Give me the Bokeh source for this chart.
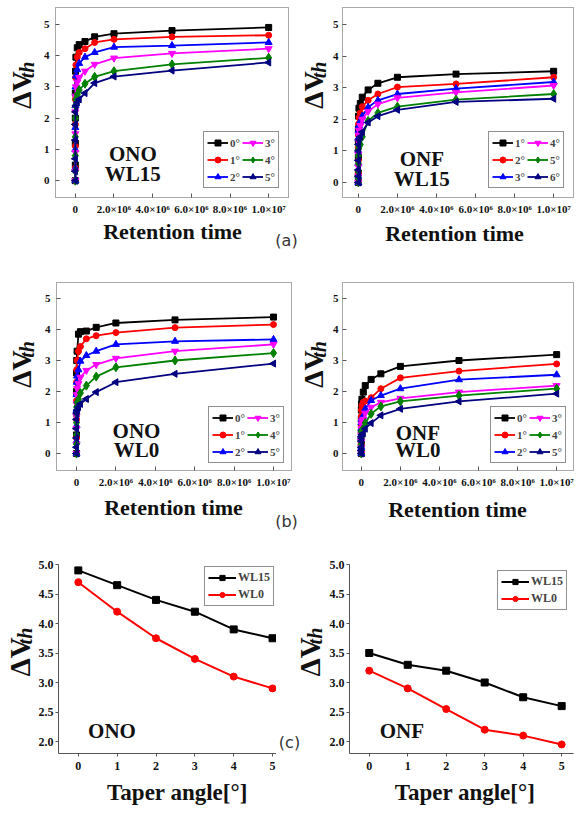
import numpy as np
from bokeh.plotting import figure
from bokeh.models import Range1d, FixedTicker, Label, Legend, LegendItem
from bokeh.layouts import column, row
from bokeh.embed import file_html
from bokeh.resources import INLINE

# ---------------- data ----------------
times = [0, 1, 10, 100, 1e3, 1e4, 3e4, 1e5, 2e5, 5e5, 1e6, 2e6, 5e6, 1e7]
time_ticks = [0, 2000000, 4000000, 6000000, 8000000, 10000000]
time_tick_labels = ["0", "2.0×10⁶", "4.0×10⁶", "6.0×10⁶", "8.0×10⁶", "1.0×10⁷"]
dv_ticks = [0, 1, 2, 3, 4, 5]
dv_tick_labels = ["0", "1", "2", "3", "4", "5"]

angles_0_to_5 = ["0°", "1°", "2°", "3°", "4°", "5°"]
angles_1_to_6 = ["1°", "2°", "3°", "4°", "5°", "6°"]

ono_wl15 = [
    [0, 0.5, 1.2, 2.0, 2.8, 3.5, 3.95, 4.25, 4.35, 4.45, 4.6, 4.7, 4.8, 4.9],
    [0, 0.4, 1.1, 1.8, 2.6, 3.3, 3.7, 3.95, 4.1, 4.22, 4.42, 4.52, 4.6, 4.65],
    [0, 0.4, 1.0, 1.7, 2.4, 3.0, 3.35, 3.55, 3.75, 3.95, 4.1, 4.27, 4.32, 4.42],
    [0, 0.3, 0.9, 1.5, 2.2, 2.7, 3.0, 3.15, 3.3, 3.5, 3.72, 3.92, 4.07, 4.22],
    [0, 0.3, 0.8, 1.4, 2.0, 2.4, 2.6, 2.75, 2.9, 3.1, 3.32, 3.5, 3.72, 3.93],
    [0, 0.3, 0.7, 1.3, 1.8, 2.2, 2.4, 2.5, 2.6, 2.8, 3.12, 3.33, 3.52, 3.78],
]
onf_wl15 = [
    [0, 0.3, 0.8, 1.3, 1.7, 2.1, 2.35, 2.5, 2.7, 2.93, 3.14, 3.33, 3.43, 3.52],
    [0, 0.3, 0.7, 1.1, 1.5, 1.85, 2.05, 2.2, 2.4, 2.6, 2.8, 3.02, 3.12, 3.33],
    [0, 0.2, 0.6, 1.0, 1.4, 1.65, 1.8, 1.95, 2.1, 2.38, 2.6, 2.8, 2.97, 3.18],
    [0, 0.2, 0.5, 0.9, 1.3, 1.5, 1.65, 1.8, 2.0, 2.25, 2.48, 2.68, 2.85, 3.07],
    [0, 0.15, 0.35, 0.6, 0.85, 1.05, 1.15, 1.2, 1.45, 1.95, 2.2, 2.4, 2.62, 2.8],
    [0, 0.2, 0.4, 0.7, 1.0, 1.2, 1.35, 1.45, 1.6, 1.9, 2.1, 2.3, 2.55, 2.65],
]
ono_wl0 = [
    [0, 0.6, 1.3, 2.0, 2.6, 3.0, 3.3, 3.85, 3.93, 3.95, 4.07, 4.21, 4.31, 4.4],
    [0, 0.5, 1.1, 1.7, 2.3, 2.7, 3.0, 3.3, 3.45, 3.7, 3.8, 3.9, 4.06, 4.16],
    [0, 0.4, 0.9, 1.4, 1.9, 2.3, 2.5, 2.7, 2.98, 3.16, 3.3, 3.52, 3.62, 3.68],
    [0, 0.3, 0.8, 1.2, 1.6, 1.9, 2.1, 2.25, 2.46, 2.68, 2.87, 3.07, 3.3, 3.52],
    [0, 0.3, 0.6, 1.0, 1.3, 1.5, 1.65, 1.75, 1.95, 2.19, 2.48, 2.78, 3.0, 3.24],
    [0, 0.2, 0.5, 0.8, 1.1, 1.3, 1.4, 1.5, 1.6, 1.76, 1.98, 2.3, 2.57, 2.9],
]
onf_wl0 = [
    [0, 0.3, 0.7, 1.1, 1.4, 1.6, 1.75, 1.98, 2.19, 2.39, 2.57, 2.81, 3.0, 3.19],
    [0, 0.3, 0.6, 0.9, 1.2, 1.4, 1.55, 1.65, 1.69, 1.8, 2.09, 2.44, 2.66, 2.89],
    [0, 0.2, 0.5, 0.8, 1.0, 1.1, 1.15, 1.2, 1.44, 1.71, 1.87, 2.09, 2.38, 2.54],
    [0, 0.2, 0.4, 0.6, 0.8, 0.95, 1.05, 1.1, 1.3, 1.49, 1.65, 1.78, 1.98, 2.19],
    [0, 0.1, 0.3, 0.5, 0.6, 0.7, 0.75, 0.8, 0.98, 1.28, 1.52, 1.68, 1.87, 2.09],
    [0, 0.1, 0.2, 0.4, 0.5, 0.55, 0.6, 0.65, 0.8, 0.98, 1.23, 1.44, 1.68, 1.93],
]

taper_angles = [0, 1, 2, 3, 4, 5]
taper_x_labels = ["0", "1", "2", "3", "4", "5"]
taper_y_ticks = [2.0, 2.5, 3.0, 3.5, 4.0, 4.5, 5.0]
taper_y_labels = ["2.0", "2.5", "3.0", "3.5", "4.0", "4.5", "5.0"]
taper_names = ["WL15", "WL0"]
ono_taper_wl15 = [4.9, 4.65, 4.4, 4.2, 3.9, 3.75]
ono_taper_wl0 = [4.7, 4.2, 3.75, 3.4, 3.1, 2.9]
onf_taper_wl15 = [3.5, 3.3, 3.2, 3.0, 2.75, 2.6]
onf_taper_wl0 = [3.2, 2.9, 2.55, 2.2, 2.1, 1.95]

# ---------------- style ----------------
SERIF = "Liberation Serif"
TAGFONT = "DejaVu Sans"
COLORS = ["#000000", "#ff0000", "#0000ff", "#ff00ff", "#008000", "#000080"]
MARKERS = [("square", 0.0, 6), ("circle", 0.0, 6), ("triangle", 0.0, 7),
           ("inverted_triangle", 0.0, 7), ("diamond", 0.0, 9), ("triangle", np.pi / 2, 7)]


def lin(p0, v0, p1, v1):
    return lambda p: v0 + (p - p0) * (v1 - v0) / (p1 - p0)


def label(x, y, text, size, style="bold", angle=0.0, font=SERIF, color="#111111"):
    return Label(x=x, y=y, text=text, angle=angle, text_font=font, text_font_style=style,
                 text_font_size=size, text_color=color, text_align="center",
                 text_baseline="middle")


def ylabel_fig(box, dv, th, dv_size="28px", th_size="20px", extra=None):
    """Narrow figure that only carries the rotated ΔV_th title (page-pixel coordinates)."""
    x0, y0, x1, y1 = box
    p = figure(width=x1 - x0, height=y1 - y0, x_range=Range1d(x0, x1), y_range=Range1d(y1, y0),
               x_axis_type=None, y_axis_type=None, output_backend="svg", toolbar_location=None,
               min_border=0, min_border_left=0, min_border_right=0,
               min_border_top=0, min_border_bottom=0)
    p.xgrid.visible = False
    p.ygrid.visible = False
    p.outline_line_color = None
    p.add_layout(label(dv[0], dv[1], "ΔV", dv_size, angle=np.pi / 2))
    p.add_layout(label(th[0], th[1], "th", th_size, style="bold italic", angle=np.pi / 2))
    if extra is not None:
        ex, ey, et = extra
        p.add_layout(label(ex, ey, et, "16px", style="normal", font=TAGFONT, color="#333333"))
    return p


def make_fig(spec):
    cx0, cy0, cx1, cy1 = spec["canvas"]
    fx0, fy0, fx1, fy1 = spec["frame"]
    fx = lin(*spec["xa"])
    fy = lin(*spec["ya"])
    p = figure(width=cx1 - cx0, height=cy1 - cy0,
               x_range=Range1d(fx(fx0), fx(fx1)), y_range=Range1d(fy(fy1), fy(fy0)),
               output_backend="svg", toolbar_location=None,
               min_border_left=fx0 - cx0, min_border_right=cx1 - fx1,
               min_border_top=fy0 - cy0, min_border_bottom=cy1 - fy1)
    p.xgrid.visible = False
    p.ygrid.visible = False
    p.background_fill_color = "white"
    p.border_fill_color = "white"
    for ax in (p.xaxis[0], p.yaxis[0]):
        ax.major_label_text_font = SERIF
        ax.major_label_text_font_style = "bold"
        ax.major_label_text_color = "#111111"
        ax.minor_tick_line_color = None
        ax.major_tick_line_color = "#555555"
        ax.axis_label = None
    return p, fx, fy


def add_below_texts(p, fx, fy, spec, title, title_size):
    # texts under the frame live in the "below" side panel so that they are not clipped
    tx, ty = spec["title_pos"]
    p.add_layout(label(fx(tx), fy(ty), title, title_size), "below")
    if "tag" in spec:
        gx, gy, gt = spec["tag"]
        p.add_layout(label(fx(gx), fy(gy), gt, "16px", style="normal", font=TAGFONT,
                           color="#333333"), "below")


def time_panel(spec, series, names, tag1, tag2):
    p, fx, fy = make_fig(spec)
    p.outline_line_color = "#555555"
    p.outline_line_dash = "1 1"
    p.outline_line_width = 1
    xa, ya = p.xaxis[0], p.yaxis[0]
    for ax in (xa, ya):
        ax.axis_line_color = None
        ax.major_tick_in = 4
        ax.major_tick_out = 0
        ax.major_label_text_font_size = "11px"
    xa.ticker = FixedTicker(ticks=time_ticks)
    xa.major_label_overrides = dict(zip(time_ticks, time_tick_labels))
    xa.major_label_standoff = 5
    ya.ticker = FixedTicker(ticks=dv_ticks)
    ya.major_label_overrides = dict(zip(dv_ticks, dv_tick_labels))
    ya.major_label_standoff = spec["ystandoff"]

    items = []
    for vals, name, col, (mk, ang, sz) in zip(series, names, COLORS, MARKERS):
        lr = p.line(times, vals, line_color=col, line_width=1.8)
        sr = p.scatter(times, vals, marker=mk, angle=ang, size=sz, fill_color=col, line_color=col)
        items.append(LegendItem(label=name, renderers=[lr, sr]))
    leg = Legend(items=items, orientation="vertical", nrows=3, location="bottom_right",
                 label_text_font=SERIF, label_text_font_style="bold", label_text_font_size="11px",
                 glyph_width=21, glyph_height=15, label_height=15, label_width=10,
                 label_standoff=2, spacing=2, padding=3, margin=spec["legend_margin"],
                 border_line_color="#222222", border_line_width=1, background_fill_alpha=1.0)
    p.add_layout(leg)

    (t1x, t1y), (t2x, t2y) = spec["text_pos"]
    p.add_layout(label(fx(t1x), fy(t1y), tag1, "21px"))
    p.add_layout(label(fx(t2x), fy(t2y), tag2, "21px"))
    add_below_texts(p, fx, fy, spec, "Retention time", "22px")
    return p


def taper_panel(spec, wl15, wl0, tag):
    p, fx, fy = make_fig(spec)
    p.outline_line_color = None
    xa, ya = p.xaxis[0], p.yaxis[0]
    for ax in (xa, ya):
        ax.axis_line_color = "#555555"
        ax.axis_line_width = 1
        ax.major_tick_in = 0
        ax.major_tick_out = 3
        ax.major_label_text_font_size = "12px"
    xa.ticker = FixedTicker(ticks=taper_angles)
    xa.major_label_overrides = dict(zip(taper_angles, taper_x_labels))
    xa.major_label_standoff = 5
    ya.ticker = FixedTicker(ticks=taper_y_ticks)
    ya.major_label_overrides = dict(zip(taper_y_ticks, taper_y_labels))
    ya.major_label_standoff = 2

    items = []
    for vals, name, col, (mk, ang, sz) in zip([wl15, wl0], taper_names, COLORS[:2], MARKERS[:2]):
        lr = p.line(taper_angles, vals, line_color=col, line_width=2)
        sr = p.scatter(taper_angles, vals, marker=mk, size=sz + 1, fill_color=col, line_color=col)
        items.append(LegendItem(label=name, renderers=[lr, sr]))
    leg = Legend(items=items, orientation="vertical", location="top_right",
                 label_text_font=SERIF, label_text_font_style="bold", label_text_font_size="12px",
                 glyph_width=28, glyph_height=13, label_height=13, label_width=10,
                 label_standoff=2, spacing=2, padding=3, margin=spec["legend_margin"],
                 border_line_color="#222222", border_line_width=1, background_fill_alpha=1.0)
    p.add_layout(leg)
    tx, ty = spec["text_pos"]
    p.add_layout(label(fx(tx), fy(ty), tag, "21px"))
    add_below_texts(p, fx, fy, spec, "Taper angle[°]", "23px")
    return p


# page-pixel geometry (canvas and frame boxes; axis anchor pixels)
spec_a1 = dict(canvas=(40, 0, 297, 262), frame=(53, 7, 288, 199), xa=(73, 0, 268, 1e7), ya=(182, 0, 24, 5),
               ystandoff=6, legend_margin=9, text_pos=[(131, 155), (131, 175)], title_pos=(171, 233),
               tag=(286, 242, "(a)"))
spec_a2 = dict(canvas=(329, 0, 576, 262), frame=(340, 7, 573, 197), xa=(356, 0, 553, 1e7), ya=(182, 0, 24, 5),
               ystandoff=4, legend_margin=9, text_pos=[(420, 158), (420, 178)], title_pos=(453, 233))
spec_b1 = dict(canvas=(40, 262, 297, 540), frame=(56, 282, 291, 470), xa=(76, 0, 273, 1e7), ya=(453, 0, 298, 5),
               ystandoff=6, legend_margin=7, text_pos=[(136, 430), (136, 449)], title_pos=(173, 507),
               tag=(286, 521, "(b)"))
spec_b2 = dict(canvas=(329, 262, 576, 540), frame=(340, 282, 573, 470), xa=(359, 0, 556, 1e7), ya=(453, 0, 298, 5),
               ystandoff=4, legend_margin=7, text_pos=[(416, 432), (416, 449)], title_pos=(456, 509))
spec_c1 = dict(canvas=(35, 540, 276, 820), frame=(56, 564, 276, 753), xa=(76, 0, 272, 5), ya=(741, 2.0, 564, 5.0),
               legend_margin=2, text_pos=(110, 730), title_pos=(176, 792))
spec_c2 = dict(canvas=(326, 540, 576, 820), frame=(346, 564, 573, 753), xa=(366, 0, 561, 5), ya=(741, 2.0, 564, 5.0),
               legend_margin=6, text_pos=(399, 730), title_pos=(463, 792))

la1 = ylabel_fig((0, 0, 40, 262), dv=(21, 114), th=(26, 86))
la2 = ylabel_fig((297, 0, 329, 262), dv=(313, 114), th=(318, 86))
lb1 = ylabel_fig((0, 262, 40, 540), dv=(21, 390), th=(26, 361))
lb2 = ylabel_fig((297, 262, 329, 540), dv=(313, 390), th=(318, 361))
lc1 = ylabel_fig((0, 540, 35, 820), dv=(19, 677), th=(24, 646), dv_size="29px", th_size="20px")
lc2 = ylabel_fig((276, 540, 326, 820), dv=(309, 677), th=(314, 646), dv_size="29px", th_size="20px",
                 extra=(289, 803, "(c)"))

pa1 = time_panel(spec_a1, ono_wl15, angles_0_to_5, "ONO", "WL15")
pa2 = time_panel(spec_a2, onf_wl15, angles_1_to_6, "ONF", "WL15")
pb1 = time_panel(spec_b1, ono_wl0, angles_0_to_5, "ONO", "WL0")
pb2 = time_panel(spec_b2, onf_wl0, angles_0_to_5, "ONF", "WL0")
pc1 = taper_panel(spec_c1, ono_taper_wl15, ono_taper_wl0, "ONO")
pc2 = taper_panel(spec_c2, onf_taper_wl15, onf_taper_wl0, "ONF")

layout = column(row(la1, pa1, la2, pa2), row(lb1, pb1, lb2, pb2), row(lc1, pc1, lc2, pc2))
open("out.html", "w").write(file_html(layout, INLINE))
